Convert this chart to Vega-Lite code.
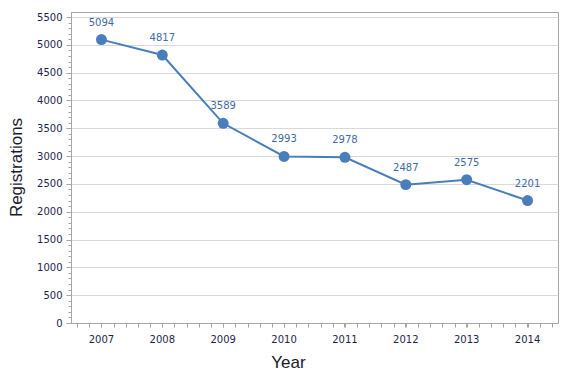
{
  "$schema": "https://vega.github.io/schema/vega-lite/v6.json",
  "width": 487,
  "height": 311,
  "autosize": {"type": "none"},
  "padding": {"left": 71, "top": 12, "right": 12, "bottom": 57},
  "background": "white",
  "config": {
    "view": {"stroke": "#a6a6a6", "strokeWidth": 1},
    "font": "DejaVu Sans"
  },
  "data": {
    "values": [
      {"year": "2007", "registrations": 5094},
      {"year": "2008", "registrations": 4817},
      {"year": "2009", "registrations": 3589},
      {"year": "2010", "registrations": 2993},
      {"year": "2011", "registrations": 2978},
      {"year": "2012", "registrations": 2487},
      {"year": "2013", "registrations": 2575},
      {"year": "2014", "registrations": 2201}
    ]
  },
  "layer": [
    {
      "encoding": {
        "x": {
          "field": "year",
          "type": "ordinal",
          "scale": {"type": "band", "paddingInner": 0, "paddingOuter": 0},
          "axis": {
            "title": "Year",
            "titleFont": "Liberation Sans",
            "titleFontSize": 17,
            "titleFontWeight": "normal",
            "titleColor": "#1a1a2e",
            "titleX": 217,
            "titleY": 39,
            "titleAlign": "center",
            "titleBaseline": "middle",
            "labelAngle": 0,
            "labelFontSize": 10,
            "labelColor": "#1f1f4f",
            "labelPadding": 7,
            "tickSize": 4,
            "tickColor": "#a6a6a6",
            "domainColor": "#a6a6a6",
            "grid": false
          }
        },
        "y": {
          "field": "registrations",
          "type": "quantitative",
          "scale": {"domain": [0, 5590], "nice": false, "zero": true},
          "axis": {
            "title": "Registrations",
            "titleFont": "Liberation Sans",
            "titleFontSize": 17,
            "titleFontWeight": "normal",
            "titleColor": "#1a1a2e",
            "titleX": -55,
            "titleY": 155,
            "titleAlign": "center",
            "titleBaseline": "middle",
            "format": "d",
            "values": [0, 500, 1000, 1500, 2000, 2500, 3000, 3500, 4000, 4500, 5000, 5500],
            "labelFontSize": 10,
            "labelColor": "#1f1f4f",
            "labelPadding": 4,
            "tickSize": 5,
            "tickColor": "#a6a6a6",
            "domainColor": "#a6a6a6",
            "gridColor": "#d9d9d9",
            "gridWidth": 1
          }
        }
      },
      "layer": [
        {"mark": {"type": "line", "color": "#4a7ebb", "strokeWidth": 2}},
        {"mark": {"type": "point", "filled": true, "size": 120, "color": "#4a7ebb", "opacity": 1}},
        {
          "mark": {"type": "text", "dy": -17, "color": "#3f6aa6", "fontSize": 10},
          "encoding": {"text": {"field": "registrations", "type": "quantitative", "format": "d"}}
        }
      ]
    },
    {
      "mark": {"type": "point", "opacity": 0},
      "encoding": {
        "x": {
          "datum": 0,
          "type": "quantitative",
          "scale": {"domain": [0, 80], "nice": false},
          "axis": {
            "orient": "bottom",
            "title": null,
            "labels": false,
            "domain": false,
            "grid": false,
            "tickSize": 4,
            "tickColor": "#a6a6a6",
            "values": [1, 3, 5, 7, 9, 11, 13, 15, 17, 19, 21, 23, 25, 27, 29, 31, 33, 35, 37, 39, 41, 43, 45, 47, 49, 51, 53, 55, 57, 59, 61, 63, 65, 67, 69, 71, 73, 75, 77, 79]
          }
        },
        "y": {
          "datum": 0,
          "type": "quantitative",
          "scale": {"domain": [0, 5590], "nice": false},
          "axis": {
            "orient": "left",
            "title": null,
            "labels": false,
            "domain": false,
            "grid": false,
            "tickSize": 3,
            "tickColor": "#a6a6a6",
            "values": [100, 200, 300, 400, 600, 700, 800, 900, 1100, 1200, 1300, 1400, 1600, 1700, 1800, 1900, 2100, 2200, 2300, 2400, 2600, 2700, 2800, 2900, 3100, 3200, 3300, 3400, 3600, 3700, 3800, 3900, 4100, 4200, 4300, 4400, 4600, 4700, 4800, 4900, 5100, 5200, 5300, 5400]
          }
        }
      }
    }
  ],
  "resolve": {
    "scale": {"x": "independent", "y": "independent"},
    "axis": {"x": "independent", "y": "independent"}
  }
}
